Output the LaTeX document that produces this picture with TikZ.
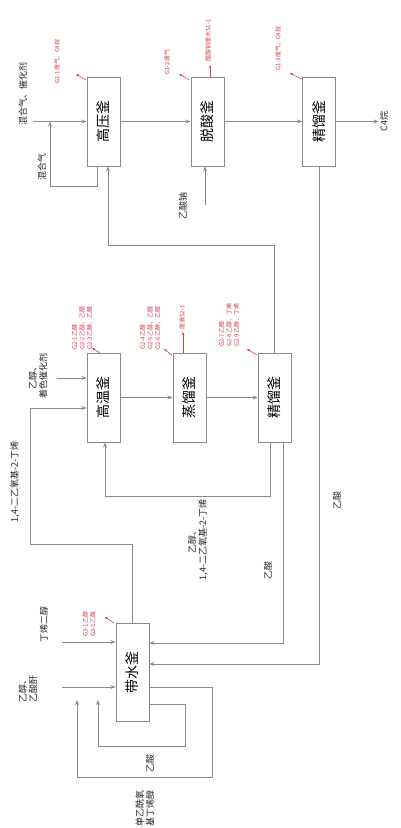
\documentclass[tikz,border=0pt]{standalone}
\usepackage{fontspec}
\setmainfont{Noto Sans CJK SC}
\usetikzlibrary{arrows.meta}
\definecolor{lncol}{HTML}{8A8A8A}
\definecolor{emcol}{HTML}{D8404A}
\tikzset{
  box/.style={draw=lncol, line width=0.9pt, minimum width=33pt, minimum height=89pt, inner sep=0pt, font=\fontsize{14}{14}\selectfont},
  flow/.style={draw=lncol, line width=0.9pt, -{Stealth[length=5pt,width=4pt]}},
  pipe/.style={draw=lncol, line width=0.9pt},
  lbl/.style={rotate=90, font=\fontsize{9}{10.5}\selectfont, align=center, inner sep=1pt, text=black!85},
  emis/.style={rotate=90, font=\fontsize{6}{7.5}\selectfont, text=emcol, align=left, inner sep=0pt},
  emarrow/.style={draw=emcol, line width=0.6pt, -{Stealth[length=3pt,width=2.5pt]}}
}
\begin{document}
\begin{tikzpicture}[x=1pt,y=-1pt]
\useasboundingbox[fill=white] (0,0) rectangle (401,828);

% ---------- top row ----------
\node[box] (hp)  at (103.5,121.5) {\rotatebox{90}{高压釜}};
\node[box] (tsf) at (207.5,121.5) {\rotatebox{90}{脱酸釜}};
\node[box] (jl1) at (319,121.5)   {\rotatebox{90}{精馏釜}};

\node[lbl] (mix)  at (23,94)   {混合气、催化剂};
\node[lbl] (mix2) at (42,167)  {混合气};
\node[lbl] (nac)  at (183,206) {乙酸钠};
\node[lbl] (c4)   at (384,121.5) {C4烷};

\coordinate (f1) at (33,121.5);
\coordinate (j1) at (50,121.5);
\coordinate (j1b) at (50,186);
\coordinate (nain) at (205,205);

\draw[flow] (f1) -- (hp.west);
\draw[flow] ([xshift=-6.5pt]hp.south) |- (j1b) -- (j1);
\draw[flow] (hp.east) -- (tsf.west);
\draw[flow] (tsf.east) -- (jl1.west);
\draw[flow] (jl1.east) -- (c4.north);
\draw[flow] (nain) -- (nain |- tsf.south);

% emissions top row
\node[emis, anchor=west] (e1) at (57,84) {G1-1废气、C4烷};
\draw[emarrow] (86,80) -- (76,74);
\node[emis, anchor=west] (e2) at (167,75) {G1-2废气};
\node[emis, anchor=west] (e3) at (208,62) {醋酸钠废水S1-1};
\draw[emarrow] (189,80) -- (179,74);
\draw[emarrow] (tsf.north -| 210,0) -- (210,65);
\node[emis, anchor=west] (e4) at (278,71) {G1-3废气、C4烷};
\draw[emarrow] (301,79) -- (290,73);

% ---------- middle row ----------
\node[box] (gw) at (103.5,397.5) {\rotatebox{90}{高温釜}};
\node[box] (zl) at (189.5,397.5) {\rotatebox{90}{蒸馏釜}};
\node[box] (jl2) at (274.5,397.5) {\rotatebox{90}{精馏釜}};

\draw[flow] (gw.east) -- (zl.west);
\draw[flow] (zl.east) -- (jl2.west);

\node[lbl] (eth) at (38,376) {乙醇、\\着色催化剂};
\coordinate (f3) at (57,378);
\draw[flow] (f3) -- (f3 -| gw.west);

% recycle jl2 top -> hp bottom
\draw[flow] (jl2.north) -- ++(0,-107) -| ([xshift=4.5pt]hp.south);

% recycle jl2 bottom -> gw bottom
\draw[flow] ([xshift=-4.5pt]jl2.south) -- ++(0,54) -| ([xshift=1.5pt]gw.south);
\node[lbl] (rec) at (198,540) {乙醇、\\1,4-二乙氧基-2-丁烯};

% emissions middle row
\node[emis, anchor=west] (e5) at (82,350) {G2-1乙醛\\G2-2乙醇、乙醛\\G2-3乙醇、乙醛};
\draw[emarrow] (100,353) -- (92,348);
\node[emis, anchor=west] (e6) at (150,350) {G2-4乙醛\\G2-5乙醇、乙醛\\G2-6乙醇、乙醛};
\draw[emarrow] (172,355) -- (164,349);
\node[emis, anchor=west] (e7) at (182,330) {废液S2-1};
\draw[emarrow] (183,353) -- (183,332);
\node[emis, anchor=west] (e8) at (229,347) {G2-7乙醛\\G2-8乙醇、丁烯\\G2-9乙醇、丁烯};
\draw[emarrow] (257,355) -- (247,349);

% ---------- bottom ----------
\node[box, minimum height=98pt] (ds) at (132.5,672) {\rotatebox{90}{带水釜}};

% jl1 bottom -> ds (acetic acid)
\draw[flow] (jl1.south) |- ([yshift=8pt]ds.east);
\node[lbl] (ac1) at (337,500) {乙酸};
% jl2 bottom -> ds (acetic acid)
\draw[flow] ([xshift=8.5pt]jl2.south) |- ([yshift=29pt]ds.east);
\node[lbl] (ac2) at (268,570) {乙酸};

% ds top -> gw left
\coordinate (c1) at (30,544);
\draw[flow] (ds.north) |- (c1) |- ([yshift=-10.5pt]gw.west);
\node[lbl] (deb) at (15,482) {1,4-二乙氧基-2-丁烯};

% feeds to ds
\node[lbl] (bd) at (44,624) {丁烯二醇};
\coordinate (f4) at (62,642);
\draw[flow] (f4) -- (f4 -| ds.west);
\node[lbl] (ea) at (28,689) {乙醇、\\乙酸酐};
\coordinate (f5) at (62,687);
\draw[flow] (f5) -- (f5 -| ds.west);

% loops back from ds
\coordinate (c2) at (212,777);
\coordinate (c3) at (77,700);
\draw[flow] ([yshift=-15pt]ds.east) -| (c2) -| (c3);
\coordinate (c4b) at (185,746);
\coordinate (c5) at (98,700);
\draw[flow] ([yshift=-32pt]ds.east) -| (c4b) -| (c5);
\node[lbl] (ac3) at (150,763) {乙酸};
\node[lbl] (mab) at (145,808) {单乙酰氧\\基丁烯醇};

% emission at ds
\node[emis, anchor=west] (e9) at (89,637) {G3-1乙醇\\G3-2乙酸};
\draw[emarrow] (114,623) -- (105,617);
\end{tikzpicture}
\end{document}
